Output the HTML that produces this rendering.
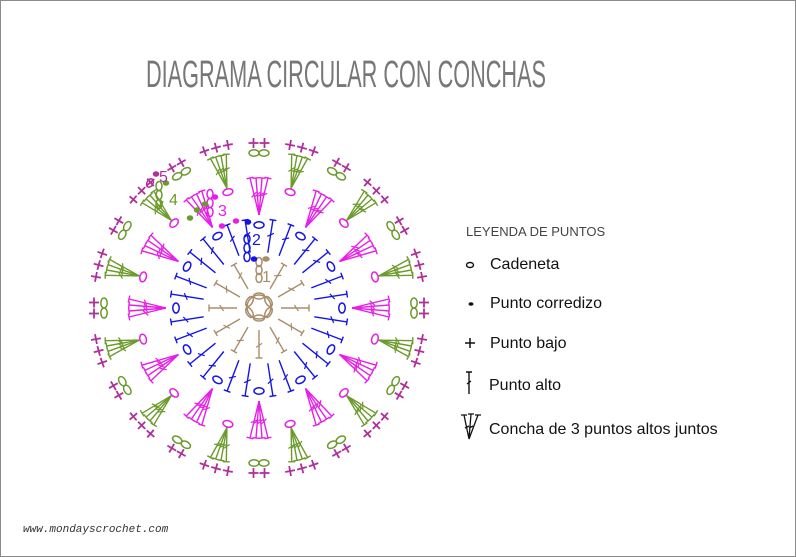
<!DOCTYPE html>
<html><head><meta charset="utf-8"><style>
html,body{margin:0;padding:0;background:#fff}
#w{position:relative;width:796px;height:557px;box-sizing:border-box;border:1px solid #8a8a8a;overflow:hidden;font-family:"Liberation Sans",sans-serif}
</style></head><body><div id="w">
<svg id="s" width="796" height="557" style="position:absolute;left:-1px;top:-1px">
<text x="146" y="87" font-family="Liberation Sans Narrow, Liberation Sans, sans-serif" font-size="38" fill="#777" textLength="400" lengthAdjust="spacingAndGlyphs">DIAGRAMA CIRCULAR CON CONCHAS</text>
<text x="466" y="236" font-size="13" fill="#444" font-family="Liberation Sans, sans-serif">LEYENDA DE PUNTOS</text>
<text x="23" y="532" font-size="11" fill="#333" font-family="Liberation Mono, monospace" font-style="italic">www.mondayscrochet.com</text>
<g id="g"></g>
<g font-family="Liberation Sans, sans-serif" font-size="16" fill="#111">
<ellipse cx="470" cy="265" rx="3.5" ry="2.5" fill="none" stroke="#111" stroke-width="1.4"/>
<text x="490" y="269">Cadeneta</text>
<ellipse cx="471" cy="304" rx="2.5" ry="1.8" fill="#111"/>
<text x="490" y="308">Punto corredizo</text>
<path d="M465 343h10M470 338v10" stroke="#111" stroke-width="1.5"/>
<text x="490" y="348">Punto bajo</text>
<path d="M466 372h6M469 372v22M467 384l4-3" stroke="#111" stroke-width="1.4" fill="none"/>
<text x="489" y="390">Punto alto</text>
<path d="M461 415h6M464 415l5 24M468 414h6M471 414l-2 25M475 415h6M478 415l-9 24M465 428l4-2M473 426l-4 2" stroke="#111" stroke-width="1.3" fill="none"/>
<text x="489" y="434">Concha de 3 puntos altos juntos</text>
</g>
</svg>
<script>
var CX=259,CY=308,out=[];
var TAN="#a98d6a",BLUE="#1414e6",MAG="#e61ee6",GRN="#6c9a2c",PUR="#b0309a";
function P(a,r){var t=a*Math.PI/180;return[CX+r*Math.cos(t),CY+r*Math.sin(t)];}
function L(x1,y1,x2,y2,c,w){out.push('<line x1="'+x1.toFixed(1)+'" y1="'+y1.toFixed(1)+'" x2="'+x2.toFixed(1)+'" y2="'+y2.toFixed(1)+'" stroke="'+c+'" stroke-width="'+(w||1.4)+'"/>');}
function E(x,y,rx,ry,rot,c,fill){out.push('<ellipse cx="'+x.toFixed(1)+'" cy="'+y.toFixed(1)+'" rx="'+rx+'" ry="'+ry+'" transform="rotate('+rot.toFixed(1)+' '+x.toFixed(1)+' '+y.toFixed(1)+')" fill="'+(fill?c:'none')+'" stroke="'+c+'" stroke-width="1.5"/>');}
function dcLine(x1,y1,x2,y2,c){
 L(x1,y1,x2,y2,c);var dx=x2-x1,dy=y2-y1,l=Math.hypot(dx,dy),ux=dx/l,uy=dy/l,px=-uy,py=ux;
 L(x2-px*3.5,y2-py*3.5,x2+px*3.5,y2+py*3.5,c);
 var mx=x1+dx*0.55,my=y1+dy*0.55;L(mx-px*3+ux*-2,my-py*3-uy*2,mx+px*3+ux*2,my+py*3+uy*2,c,1.2);}
function dc(a,r0,r1,c){var p=P(a,r0),q=P(a,r1);dcLine(p[0],p[1],q[0],q[1],c);}
function plus(x,y,a,c){var t=a*Math.PI/180,s=5;L(x-s*Math.cos(t),y-s*Math.sin(t),x+s*Math.cos(t),y+s*Math.sin(t),c,1.8);L(x+s*Math.sin(t),y-s*Math.cos(t),x-s*Math.sin(t),y+s*Math.cos(t),c,1.8);}
function shell(a,rt,rtop,c,n,spread){var p=P(a,rt);for(var i=0;i<n;i++){var off=(i-(n-1)/2)*spread;var q=P(a,rtop);var t=(a+90)*Math.PI/180;dcLine(p[0],p[1],q[0]+off*Math.cos(t),q[1]+off*Math.sin(t),c);}}
out.push('<circle cx="'+CX+'" cy="'+(CY-1)+'" r="12" fill="none" stroke="'+TAN+'" stroke-width="1.5"/>');
for(var i=0;i<6;i++){var a=i*60-90,p=P(a,11);p[1]-=1;E(p[0],p[1],5.5,3,a+90,TAN);}
for(var i=0;i<12;i++){var a=i*30;if(a==270)continue;dc(a,22,50,TAN);}
for(var k=0;k<3;k++)E(CX,CY-30-k*8,3,4.5,0,TAN);
E(266,259,3,2,0,TAN,1);
for(var i=0;i<12;i++){var a=i*30;var p=P(a,83);E(p[0],p[1],3.2,5,a,BLUE);
 var b=a+15;dc(b-6,56,89,BLUE);dc(b+6,56,89,BLUE);}
for(var k=0;k<3;k++)E(247,257-k*9,3,4.5,0,BLUE);
E(254,259,2.5,2,0,BLUE,1);E(248,222,2.5,2,0,BLUE,1);
for(var i=0;i<12;i++){var a=i*30;shell(a,93,130,MAG,4,6);var p=P(a+15,120);E(p[0],p[1],3.2,5,a+15,MAG);}
for(var k=0;k<3;k++)E(210,212-k*9,3,4.5,0,MAG);
E(222,226,2.5,2,0,MAG,1);E(236,221,2.5,2,0,MAG,1);E(215,197,2.5,2,0,MAG,1);
for(var i=0;i<12;i++){var a=i*30+15;shell(a,124,157,GRN,4,5.5);var b=i*30;var p=P(b,155),t=b+90;
 var q1=[p[0]+5*Math.cos(t*Math.PI/180),p[1]+5*Math.sin(t*Math.PI/180)],q2=[p[0]-5*Math.cos(t*Math.PI/180),p[1]-5*Math.sin(t*Math.PI/180)];
 E(q1[0],q1[1],5,3.2,t,GRN);E(q2[0],q2[1],5,3.2,t,GRN);
 var r=P(b,165);for(var s=-1;s<=1;s+=2){plus(r[0]+s*5.5*Math.cos(t*Math.PI/180),r[1]+s*5.5*Math.sin(t*Math.PI/180),b,PUR);}
 for(var s=-1;s<=1;s++){var pp=P(a+s*4.2,166);plus(pp[0],pp[1],a+s*4.2,PUR);}
}
for(var k=0;k<3;k++)E(159,204-k*9,3,4.5,0,GRN);
E(166,183,2.5,2,0,GRN,1);E(190,218,2.5,2,0,GRN,1);E(197,210,2.5,2,0,GRN,1);E(205,204,2.5,2,0,GRN,1);
E(150,183,3,4.5,30,PUR);E(156,174,2.5,2,0,PUR,1);
out.push('<text x="262" y="282" font-size="16" fill="'+TAN+'" font-family="Liberation Sans,sans-serif">1</text>');
out.push('<text x="252" y="245" font-size="16" fill="'+BLUE+'" font-family="Liberation Sans,sans-serif">2</text>');
out.push('<text x="218" y="216" font-size="16" fill="'+MAG+'" font-family="Liberation Sans,sans-serif">3</text>');
out.push('<text x="169" y="205" font-size="16" fill="'+GRN+'" font-family="Liberation Sans,sans-serif">4</text>');
out.push('<text x="159" y="182" font-size="16" fill="'+PUR+'" font-family="Liberation Sans,sans-serif">5</text>');
document.getElementById('g').innerHTML=out.join('');
</script>
</div></body></html>
